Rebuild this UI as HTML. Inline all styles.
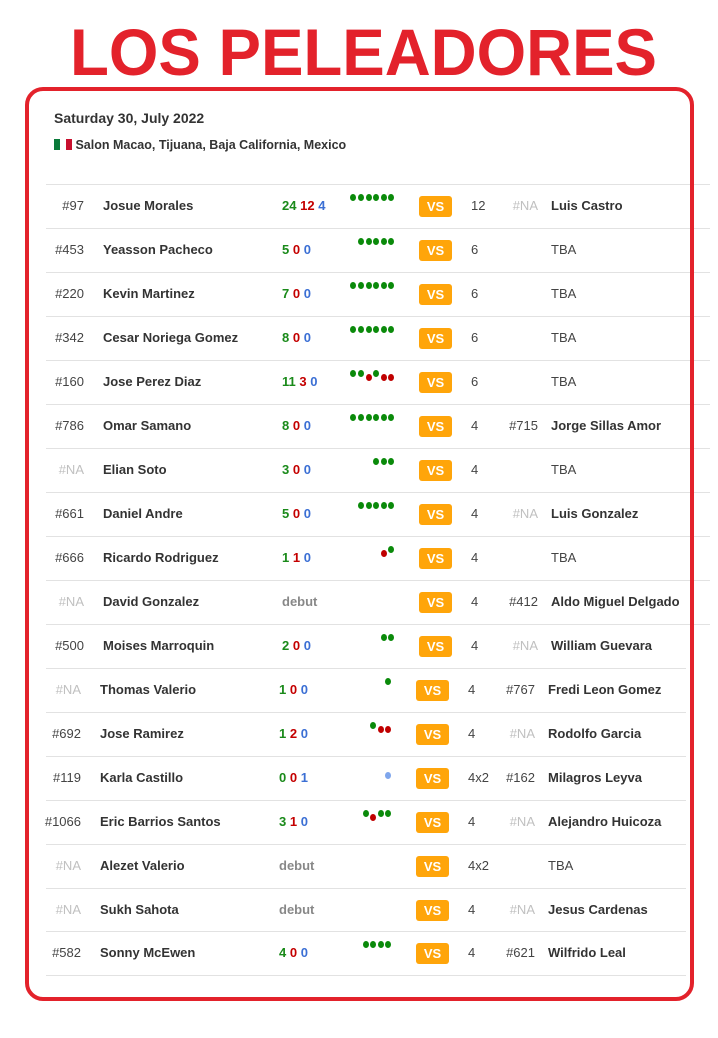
<!DOCTYPE html>
<html><head><meta charset="utf-8">
<style>
body{margin:0;width:718px;height:1038px;background:#fff;position:relative;overflow:hidden;font-family:"Liberation Sans",Arial,sans-serif;}
.a{position:absolute;white-space:nowrap;}
.line{position:absolute;height:1px;background:#e2e2e2;}
.rank{font-size:13px;color:#444;text-align:right;width:60px;}
.na{color:#c0c0c0;}
.name{font-size:13px;font-weight:bold;color:#333;}
.rec{font-size:13px;font-weight:bold;}
.g{color:#1a8a1a}.r{color:#c40000}.b{color:#3b6fd4}
.debut{color:#888;font-weight:bold;font-size:13px;}
.vs{background:#ffa50a;color:#fff;font-weight:bold;font-size:13px;width:33px;height:21px;line-height:21px;text-align:center;border-radius:3px;}
.rounds{font-size:13px;color:#444;}
.dot{position:absolute;width:6px;height:7px;border-radius:50%;}
</style></head><body>
<svg class="a" style="left:0;top:0" width="718" height="90"><text x="70" y="75" textLength="587" lengthAdjust="spacingAndGlyphs" font-family="Liberation Sans, Arial, sans-serif" font-weight="bold" font-size="66" fill="#e3222b">LOS PELEADORES</text></svg>
<div class="a" style="left:54px;top:110px;font-size:14px;font-weight:bold;color:#333">Saturday 30, July 2022</div>
<div class="a" style="left:54px;top:138px;font-size:12.5px;font-weight:bold;color:#333"><span style="display:inline-block;width:18px;height:11px;vertical-align:-1px;background:linear-gradient(90deg,#0a7a3a 0 6px,#fff 6px 12px,#c8102e 12px)"></span> Salon Macao, Tijuana, Baja California, Mexico</div>
<div id="rows"></div>
<div class="a" style="left:25px;top:87px;width:661px;height:906px;border:4px solid #e3222b;border-radius:18px;"></div>
<script>
const ranks=["#97","#453","#220","#342","#160","#786","#NA","#661","#666","#NA","#500","#NA","#692","#119","#1066","#NA","#NA","#582"];
const names=["Josue Morales","Yeasson Pacheco","Kevin Martinez","Cesar Noriega Gomez","Jose Perez Diaz","Omar Samano","Elian Soto","Daniel Andre","Ricardo Rodriguez","David Gonzalez","Moises Marroquin","Thomas Valerio","Jose Ramirez","Karla Castillo","Eric Barrios Santos","Alezet Valerio","Sukh Sahota","Sonny McEwen"];
const wins=[24,5,7,8,11,8,3,5,1,null,2,1,1,0,3,null,null,4];
const losses=[12,0,0,0,3,0,0,0,1,null,0,0,2,0,1,null,null,0];
const draws=[4,0,0,0,0,0,0,0,0,null,0,0,0,1,0,null,null,0];
const forms=["WWWWWW","WWWWW","WWWWWW","WWWWWW","WWLWLL","WWWWWW","WWW","WWWWW","LW","","WW","W","WLL","D","WLWW","","","WWWW"];
const rounds=["12","6","6","6","6","4","4","4","4","4","4","4","4","4x2","4","4x2","4","4"];
const oppRanks=["#NA","","","","","#715","","#NA","","#412","#NA","#767","#NA","#162","#NA","","#NA","#621"];
const oppNames=["Luis Castro","TBA","TBA","TBA","TBA","Jorge Sillas Amor","TBA","Luis Gonzalez","TBA","Aldo Miguel Delgado","William Guevara","Fredi Leon Gomez","Rodolfo Garcia","Milagros Leyva","Alejandro Huicoza","TBA","Jesus Cardenas","Wilfrido Leal"];
const root=document.getElementById('rows');
function mk(cls,left,top,txt){const d=document.createElement('div');d.className='a '+cls;d.style.left=left+'px';d.style.top=top+'px';if(txt!==undefined)d.textContent=txt;root.appendChild(d);return d;}
for(let i=0;i<names.length;i++){
  const top = i<11 ? 184+i*44 : 668+(i-11)*43.9;
  const dx = i<11 ? 0 : -3;
  const ty = top+14;
  const ln=mk('line',46,top);ln.style.width=(i<11?664:640)+'px';
  
  
  const rk=mk('rank'+(ranks[i]=='#NA'?' na':''),24+dx,ty,ranks[i]);
  
  
  const nm=mk('name',103+dx,ty,names[i]);
  
  
  let rc;
  if(wins[i]===null){rc=mk('debut',282+dx,ty,'debut');}
  else{rc=mk('rec',282+dx,ty);rc.innerHTML='<span class="g">'+wins[i]+'</span> <span class="r">'+losses[i]+'</span> <span class="b">'+draws[i]+'</span>';}
  
  
  const f=forms[i];
  for(let k=0;k<f.length;k++){
    const x=396+dx-(f.length-k)*7.6;
    const c=f[k];
    const dt=mk('dot',x,top+(c=='L'?14:c=='D'?16:10));
    dt.style.background=c=='W'?'#0a8a0a':c=='L'?'#c00000':'#7fa6ec';
    
    
  }
  const vs=mk('vs',419+dx,top+12,'VS');
  
  
  const rd=mk('rounds',471+dx,ty,rounds[i]);
  
  
  if(oppRanks[i]){const orr=mk('rank'+(oppRanks[i]=='#NA'?' na':''),478+dx,ty,oppRanks[i]);
    
    }
  const on=mk(oppNames[i]=='TBA'?'rounds':'name',551+dx,ty,oppNames[i]);
  
  
}
const last=mk('line',46,975);last.style.width='640px';


</script>
</body></html>
